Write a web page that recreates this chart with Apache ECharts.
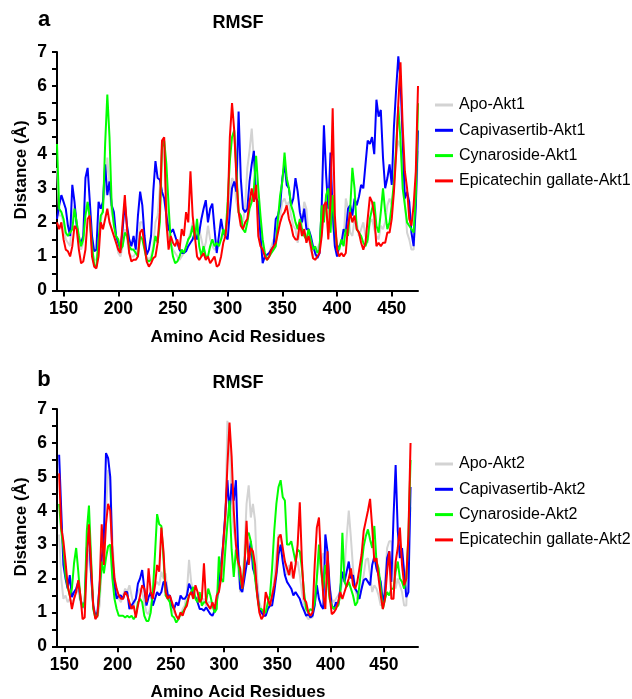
<!DOCTYPE html>
<html>
<head>
<meta charset="utf-8">
<script src="https://cdn.jsdelivr.net/npm/echarts@6/dist/echarts.min.js"></script>
<style>html,body{margin:0;padding:0;background:#fff}#c{width:632px;height:699px}</style>
</head>
<body>
<div id="c"></div>
<script>
// ---------- Panel a (Akt1): residues 144..474, step 2 ----------
const residuesA = [];
for (let r = 144; r <= 474; r += 2) residuesA.push(r);

const apoAkt1 = [
  3.6, 2.2, 2.2, 2.0, 1.5, 1.4, 1.3, 2.2, 2.5, 2.0,
  1.4, 1.2, 1.4, 2.4, 2.6, 2.0, 1.2, 0.9, 0.9, 1.4,
  2.0, 2.5, 3.0, 3.9, 3.0, 2.3, 2.0, 1.5, 1.1, 1.0,
  1.3, 1.8, 1.5, 1.1, 1.0, 1.0, 1.1, 1.2, 2.0, 2.0,
  1.4, 1.0, 0.9, 1.0, 1.3, 2.0, 2.2, 3.0, 4.4, 4.2,
  2.6, 1.6, 1.4, 1.2, 1.1, 1.0, 0.9, 1.0, 1.1, 1.2,
  1.5, 1.7, 2.0, 1.8, 1.6, 1.8, 1.5, 1.2, 1.4, 1.9,
  1.5, 1.3, 1.2, 1.2, 1.4, 1.5, 1.6, 1.7, 2.1, 2.8,
  3.3, 3.2, 2.6, 2.3, 2.2, 2.0, 2.5, 3.6, 4.1, 4.75,
  3.8, 2.8, 2.4, 1.6, 1.3, 1.1, 1.0, 1.1, 1.3, 1.5,
  1.5, 1.8, 2.2, 2.6, 2.7, 2.5, 2.6, 2.2, 1.9, 1.8,
  1.4, 1.7, 2.0, 2.6, 2.4, 1.6, 1.2, 1.0, 1.1, 1.2,
  1.4, 1.7, 2.3, 2.4, 1.7, 2.2, 2.0, 1.3, 1.2, 1.3,
  1.5, 1.4, 2.7, 2.4, 1.7, 1.6, 2.1, 2.0, 1.6, 1.8,
  2.0, 1.6, 1.4, 2.0, 2.1, 1.8, 1.6, 1.5, 1.9, 1.8,
  2.0, 2.5, 2.7, 2.5, 3.0, 4.0, 4.4, 4.2, 3.5, 2.6,
  1.7, 1.5, 1.2, 1.2, 2.4, 4.1
];
const capAkt1 = [
  2.1, 2.5, 2.8, 2.6, 2.4, 1.9, 1.6, 3.1, 2.6, 1.9,
  1.5, 1.4, 1.6, 3.3, 3.6, 2.6, 1.6, 1.15, 1.2, 2.6,
  2.4, 2.6, 3.7, 2.8, 3.2, 2.5, 2.3, 1.6, 1.4, 1.2,
  1.8, 2.55, 1.9, 1.5, 1.3, 1.6, 1.2, 2.2, 2.9, 2.5,
  1.6, 1.05, 1.2, 1.6, 2.9, 3.8, 3.3, 3.25, 2.9, 2.7,
  2.2, 1.8, 1.7, 1.8, 1.6, 1.4, 1.2, 1.1, 1.1, 1.15,
  1.3, 1.4, 1.5, 1.7, 1.5, 1.7, 2.1, 2.4, 2.65, 2.0,
  2.4, 2.55, 1.8, 1.1, 1.6, 2.1, 1.7, 1.6, 1.5, 2.3,
  3.0, 3.2, 2.9, 5.25, 3.3, 2.4, 2.3, 2.4, 3.2, 3.7,
  4.1, 2.7, 2.6, 1.6, 0.8, 1.0, 1.05, 1.1, 1.2, 1.3,
  2.1, 2.2, 2.5, 3.3, 3.7, 3.1, 3.0, 2.5, 2.7, 3.3,
  2.9, 2.3, 2.0, 2.4, 1.8, 1.8, 1.6, 1.3, 1.1, 0.95,
  1.1, 2.5, 4.85, 3.4, 2.4, 4.05, 2.3, 1.3, 1.0, 1.3,
  1.4, 1.8, 1.7, 2.4, 2.5, 2.2, 2.7, 2.5, 2.75, 3.1,
  3.0, 3.7, 4.4, 4.3, 4.5, 4.0, 5.6, 5.1, 5.3, 3.9,
  3.0, 3.3, 3.7, 3.1, 4.8, 5.9, 6.87, 6.2, 4.4, 2.7,
  2.9, 2.6, 1.7, 1.3, 2.5, 4.7
];
const cynAkt1 = [
  4.3, 2.4, 2.3, 2.1, 1.7, 1.6, 1.7, 1.8, 2.4, 2.0,
  1.6, 1.3, 1.5, 2.2, 2.6, 2.1, 1.3, 0.75, 0.7, 1.5,
  2.2, 2.3, 4.3, 5.75, 4.5, 2.5, 1.9, 1.6, 1.5, 1.2,
  1.3, 1.7, 1.6, 1.3, 1.2, 1.2, 1.1, 1.0, 1.6, 1.5,
  1.2, 0.9, 0.85, 0.9, 1.2, 1.6, 1.4, 2.0, 4.2, 4.4,
  3.7, 2.5, 1.4, 1.0, 0.8, 0.85, 1.0, 1.2, 1.1, 1.3,
  1.5, 1.6, 1.9, 1.5, 2.1, 1.3, 1.0, 1.3, 1.0, 1.0,
  1.3, 1.5, 1.3, 1.4, 1.3, 1.5, 1.8, 1.6, 2.6, 3.8,
  4.5, 4.7, 3.5, 2.3, 2.2, 1.8, 1.7, 2.0, 2.4, 2.6,
  3.0, 3.95, 3.0, 2.2, 1.5, 1.1, 0.9, 1.0, 1.1, 1.2,
  1.3, 2.1, 2.8, 3.2, 4.05, 3.3, 3.0, 2.5, 2.3, 2.0,
  1.8, 2.1, 1.8, 1.6, 1.5, 1.8, 1.5, 1.2, 1.3, 1.1,
  1.2, 2.5, 2.0, 2.8, 3.0, 1.7, 2.8, 1.9, 1.3, 1.2,
  1.5, 1.3, 1.8, 1.6, 2.4, 3.6, 3.0, 1.8, 1.7, 1.6,
  1.4, 1.3, 1.5, 2.1, 2.4, 2.6, 1.9, 1.7, 2.3, 3.0,
  2.3, 1.8, 2.0, 2.5, 3.2, 4.2, 5.4, 4.4, 3.0, 2.5,
  2.0, 1.9, 1.8, 1.7, 2.8, 5.5
];
const ecgAkt1 = [
  2.0, 1.8, 2.0, 1.5, 1.2, 1.15, 1.0, 1.3, 1.9, 1.8,
  1.2, 0.8, 0.85, 1.2, 2.1, 2.2, 1.0, 0.7, 0.65, 1.0,
  2.0, 1.8, 2.1, 2.4, 2.0, 1.8, 1.6, 1.4, 1.2, 1.1,
  2.0, 2.8, 1.8, 1.1, 0.85, 0.9, 0.9, 1.0, 1.7, 1.8,
  1.3, 0.85, 0.7, 0.8, 0.95, 1.0, 1.4, 2.3, 4.4, 4.5,
  2.0, 1.2, 1.6, 1.4, 1.3, 1.5, 1.2, 1.8, 1.6, 2.3,
  2.0, 3.5, 2.2, 1.6, 1.0, 0.9, 1.0, 1.1, 0.9, 1.0,
  0.8, 0.9, 1.0, 0.7, 0.75, 1.0, 1.4, 1.6, 2.3, 4.5,
  5.5, 4.7, 3.3, 2.3, 1.9, 1.8, 2.0, 2.1, 2.6, 3.0,
  2.6, 3.1, 1.6, 1.3, 1.2, 1.0, 0.9, 1.0, 1.2, 1.3,
  1.4, 1.7, 2.0, 2.2, 2.3, 2.5, 2.1, 1.9, 1.6, 1.5,
  1.5, 2.0, 1.6, 1.8, 1.4, 1.6, 1.3, 0.95, 0.9, 1.0,
  1.1, 1.6, 2.5, 2.6, 1.5, 2.6, 5.35, 2.2, 1.2, 1.0,
  1.1, 1.0, 1.1, 1.9, 2.3, 2.0, 2.2, 1.8, 1.7, 1.4,
  1.2, 1.4, 2.1, 2.75, 2.6, 2.2, 1.3, 1.4, 1.3, 1.4,
  1.4, 1.7, 1.7, 2.1, 2.9, 4.0, 5.5, 6.7, 4.8, 3.5,
  3.0, 2.1, 1.9, 2.5, 3.5, 6.0
];

// ---------- Panel b (Akt2): residues 145..475, step 2 ----------
const residuesB = [];
for (let r = 145; r <= 475; r += 2) residuesB.push(r);

const apoAkt2 = [
  3.3, 2.0, 1.4, 1.5, 1.3, 1.4, 1.3, 1.4, 1.65, 1.6,
  1.3, 1.1, 1.2, 2.2, 2.85, 2.1, 1.3, 0.9, 0.85, 1.2,
  2.4, 2.6, 4.0, 5.2, 4.9, 3.2, 2.0, 1.6, 1.4, 1.3,
  1.5, 1.7, 1.6, 1.8, 1.5, 1.2, 1.4, 1.6, 1.7, 1.6,
  1.3, 1.0, 0.95, 1.2, 1.5, 1.8, 1.9, 1.8, 2.2, 2.0,
  2.15, 1.6, 1.3, 1.1, 1.0, 0.9, 0.8, 0.9, 1.1, 1.2,
  1.6, 2.55, 1.9, 1.6, 1.45, 1.4, 1.5, 1.3, 1.4, 1.2,
  1.3, 1.3, 1.2, 1.1, 1.3, 1.6, 2.0, 2.3, 3.5, 6.65,
  6.2, 4.2, 3.4, 3.1, 2.3, 1.6, 1.7, 2.8, 4.2, 4.75,
  3.8, 4.2, 3.7, 2.0, 1.3, 1.1, 1.0, 0.9, 1.1, 1.3,
  1.5, 2.0, 2.7, 3.3, 3.2, 2.8, 2.5, 2.1, 2.4, 2.1,
  2.0, 2.4, 2.5, 2.1, 1.6, 1.2, 0.9, 0.8, 0.85, 0.85,
  1.3, 2.0, 2.55, 2.4, 2.75, 2.5, 2.4, 1.7, 1.4, 1.3,
  1.4, 1.5, 1.6, 1.9, 2.3, 3.2, 4.0, 3.2, 2.3, 1.7,
  1.4, 1.4, 1.7, 2.1, 2.55, 2.6, 2.1, 1.6, 1.8, 1.7,
  1.5, 1.2, 1.3, 1.9, 2.9, 3.1, 3.1, 2.3, 1.7, 2.0,
  1.8, 1.6, 1.2, 1.2, 2.8, 4.1
];
const capAkt2 = [
  5.65, 4.0, 2.4, 2.0, 1.7, 2.1, 1.45, 1.6, 1.7, 1.9,
  1.4, 1.15, 1.3, 2.9, 3.4, 2.1, 1.2, 0.9, 1.0, 1.8,
  2.6, 3.2, 5.7, 5.55, 5.0, 2.6, 1.8, 1.4, 1.5, 1.5,
  1.4, 1.6, 1.6, 1.1, 1.2, 1.3, 1.4, 1.85, 2.0, 2.25,
  1.7, 1.2, 1.45, 1.6, 1.2, 1.4, 1.6, 1.5, 1.6, 1.9,
  1.9, 1.5, 1.5, 1.2, 1.1, 1.3, 1.2, 1.5, 1.4, 1.4,
  1.5, 1.85, 1.7, 1.5, 1.45, 1.3, 1.1, 1.1, 1.05, 1.15,
  1.05, 0.95, 0.9, 1.05, 1.3, 1.9, 2.4, 3.0, 3.9, 4.9,
  3.95, 4.8, 4.3, 4.9, 2.9, 1.7, 1.6, 2.0, 2.4, 2.65,
  3.1, 2.3, 2.1, 1.6, 1.1, 1.0, 0.9, 0.9, 1.1, 1.2,
  1.2, 1.6, 2.1, 2.7, 3.0, 2.5, 2.1, 1.9, 1.8, 1.7,
  1.5, 1.6, 1.5, 1.4, 1.2, 1.05, 0.9, 0.95, 0.85, 0.9,
  1.2, 1.8, 1.4, 1.2, 1.1, 3.3, 2.8, 1.8, 1.2, 1.1,
  1.3, 1.2, 1.7, 2.2, 1.9, 2.2, 2.5, 2.0, 2.1, 1.7,
  1.6, 1.4, 1.7, 1.95, 2.0, 1.9, 1.8, 2.4, 2.65, 2.3,
  2.1, 1.9, 1.3, 1.6, 2.6, 2.8, 1.9, 3.8, 5.35, 3.4,
  2.6, 2.9, 2.2, 1.45, 1.6, 4.7
];
const cynAkt2 = [
  4.2, 3.4, 2.9, 2.1, 1.75, 1.5, 1.7, 2.45, 2.9, 2.2,
  1.4, 1.15, 1.3, 3.4, 4.15, 2.6, 1.1, 0.85, 0.9, 1.6,
  2.5, 2.15, 2.6, 2.95, 3.0, 2.0, 1.4, 1.1, 0.9, 0.9,
  0.9, 0.85, 0.9, 0.85, 0.9, 0.8, 0.9, 1.3, 1.4, 1.3,
  0.9, 0.75, 0.75, 1.0, 1.6, 2.7, 3.9, 3.6, 3.55, 2.6,
  1.5, 1.4, 1.3, 0.9, 0.85, 0.7, 0.8, 0.95, 1.0, 1.1,
  1.3, 1.5, 1.6, 1.75, 1.4, 1.3, 1.6, 1.2, 1.3, 1.3,
  1.7, 1.5, 1.2, 1.0, 1.1, 2.65, 2.0, 1.9, 2.8, 3.6,
  4.3, 2.85, 2.05, 2.85, 2.5, 2.0, 1.7, 2.45, 3.25, 3.35,
  3.1, 2.6, 2.0, 1.5, 1.1, 1.1, 1.0, 1.0, 1.3, 1.5,
  2.3, 3.4, 4.2, 4.7, 4.9, 4.4, 4.3, 3.0, 3.0, 3.1,
  2.8, 2.5, 2.85, 2.8, 2.3, 1.6, 1.1, 1.0, 1.1, 1.05,
  1.3, 2.0, 3.0, 2.2, 1.7, 2.4, 2.0, 1.4, 1.2, 1.1,
  1.15, 1.2, 1.5, 3.35, 1.9, 1.75, 1.9, 1.7, 1.5, 1.2,
  1.3, 1.8, 2.4, 2.95, 3.25, 3.45, 3.15, 2.9, 3.55, 2.5,
  2.3, 1.7, 1.1, 1.4, 1.6, 1.5, 1.7, 1.7, 2.2, 2.5,
  2.0, 1.9, 1.7, 2.0, 3.2, 5.5
];
const ecgAkt2 = [
  5.1, 3.5, 3.1, 2.5, 1.8, 1.5, 1.1, 1.4, 1.6, 1.95,
  1.5, 0.8, 0.85, 2.6, 3.6, 2.4, 1.2, 0.8, 0.9, 1.8,
  3.6, 2.4, 3.6, 4.2, 4.0, 2.8, 2.0, 1.7, 1.5, 1.4,
  1.4, 1.6, 1.5, 1.3, 1.1, 1.2, 0.85, 1.2, 1.5, 1.8,
  1.7, 1.3, 2.3, 1.6, 1.4, 1.8, 2.4, 2.2, 3.5, 2.8,
  1.6, 1.4, 1.5, 1.3, 1.1, 0.9, 0.8, 1.0, 0.9, 1.1,
  1.2, 1.5, 1.6, 1.4, 1.8, 1.6, 1.3, 1.4, 2.45, 1.3,
  1.2, 1.1, 1.3, 1.1, 1.5, 1.6, 2.0, 3.0, 3.8, 5.3,
  6.6, 5.6, 4.0, 3.0, 2.5, 2.3, 1.7, 2.3, 3.7, 2.4,
  2.9, 2.8, 2.4, 1.5, 1.0, 0.8, 0.9, 1.6, 1.4, 1.2,
  1.5, 1.8, 2.2, 3.2, 3.3, 2.9, 2.5, 2.3, 2.1, 2.5,
  2.0, 2.4, 3.0, 4.25, 2.5, 1.4, 1.3, 1.0, 0.9, 1.0,
  2.4, 3.5, 3.8, 2.5, 1.5, 1.1, 2.8, 1.5, 0.95, 1.0,
  1.1, 1.3, 1.6, 1.4, 1.6, 1.8, 2.0, 2.3, 1.8, 1.7,
  1.9, 2.3, 2.7, 3.4, 3.7, 4.0, 4.35, 3.5, 2.5, 2.6,
  2.0, 1.5, 1.1, 1.4, 2.2, 2.8, 1.4, 1.4, 2.5, 2.9,
  3.5, 2.4, 1.8, 2.0, 3.3, 6.0
];

const namesA = ['Apo-Akt1', 'Capivasertib-Akt1', 'Cynaroside-Akt1', 'Epicatechin gallate-Akt1'];
const namesB = ['Apo-Akt2', 'Capivasertib-Akt2', 'Cynaroside-Akt2', 'Epicatechin gallate-Akt2'];
const xTicks = [150, 200, 250, 300, 350, 400, 450];
const yTicks = [0, 1, 2, 3, 4, 5, 6, 7];

const colors = ['#d3d3d3', '#0000ff', '#00ff00', '#ff0000'];
const FONT = '"Liberation Sans", Arial, Helvetica, sans-serif';

function zip(xs, ys) { const n = Math.min(xs.length, ys.length); const o = []; for (let i = 0; i < n; i++) o.push([xs[i], ys[i]]); return o; }

function mkSeries(name, xs, ys, idx, ci) {
  return { name, type: 'line', xAxisIndex: idx, yAxisIndex: idx, data: zip(xs, ys),
    showSymbol: false, symbol: 'none', lineStyle: { width: 2, color: colors[ci] }, itemStyle: { color: colors[ci] },
    z: 2 + ci, animation: false };
}

function mkX(idx, min, max) {
  return { type: 'value', gridIndex: idx, min, max,
    axisLine: { show: true, onZero: false, lineStyle: { color: '#000', width: 2 } },
    axisTick: { show: true, length: 6, lineStyle: { color: '#000', width: 2 }, customValues: xTicks },
    axisLabel: { show: true, customValues: xTicks, margin: 10, color: '#000', fontSize: 17.5, fontWeight: 'bold', fontFamily: FONT },
    splitLine: { show: false } };
}
function mkY(idx) {
  return { type: 'value', gridIndex: idx, min: 0, max: 7, interval: 0.5,
    axisLine: { show: true, lineStyle: { color: '#000', width: 2 } },
    axisTick: { show: true, length: 5, lineStyle: { color: '#000', width: 2 } },
    axisLabel: { show: true, margin: 10, color: '#000', fontSize: 17.5, fontWeight: 'bold', fontFamily: FONT,
      formatter: v => (yTicks.indexOf(v) >= 0 ? String(v) : '') },
    splitLine: { show: false } };
}
function mkLegend(names, top) {
  return { data: names, orient: 'vertical', left: 435, top, padding: 0, icon: 'rect', itemWidth: 18, itemHeight: 3, itemGap: 9.3,
    textStyle: { fontSize: 16, color: '#000', fontFamily: FONT, padding: [0, 0, 0, 1] }, selectedMode: false };
}

function txt(text, x, y, size, opts) {
  return Object.assign({ type: 'text', x, y, style: { text, fontSize: size, fontWeight: 'bold', fontFamily: FONT, fill: '#000', textAlign: 'center', textVerticalAlign: 'middle' } }, opts || {});
}

const chart = echarts.init(document.getElementById('c'), null, { renderer: 'canvas' });
chart.setOption({
  animation: false,
  backgroundColor: '#fff',
  grid: [
    { left: 57, top: 52, width: 361, height: 238.5 },
    { left: 57, top: 409, width: 361, height: 237.3 }
  ],
  xAxis: [mkX(0, 144, 474), mkX(1, 143, 482)],
  yAxis: [mkY(0), mkY(1)],
  legend: [mkLegend(namesA, 97), mkLegend(namesB, 456)],
  series: [
    mkSeries(namesA[0], residuesA, apoAkt1, 0, 0),
    mkSeries(namesA[1], residuesA, capAkt1, 0, 1),
    mkSeries(namesA[2], residuesA, cynAkt1, 0, 2),
    mkSeries(namesA[3], residuesA, ecgAkt1, 0, 3),
    mkSeries(namesB[0], residuesB, apoAkt2, 1, 0),
    mkSeries(namesB[1], residuesB, capAkt2, 1, 1),
    mkSeries(namesB[2], residuesB, cynAkt2, 1, 2),
    mkSeries(namesB[3], residuesB, ecgAkt2, 1, 3)
  ],
  graphic: [
    txt('a', 44, 20, 22),
    txt('RMSF', 238, 23, 18),
    txt('b', 44, 380, 22),
    txt('RMSF', 238, 383, 18),
    txt('Amino Acid Residues', 238, 337, 17),
    txt('Amino Acid Residues', 238, 692, 17),
    txt('Distance (Å)', 21, 170, 17, { rotation: Math.PI / 2 }),
    txt('Distance (Å)', 21, 527, 17, { rotation: Math.PI / 2 })
  ]
});
</script>
</body>
</html>
